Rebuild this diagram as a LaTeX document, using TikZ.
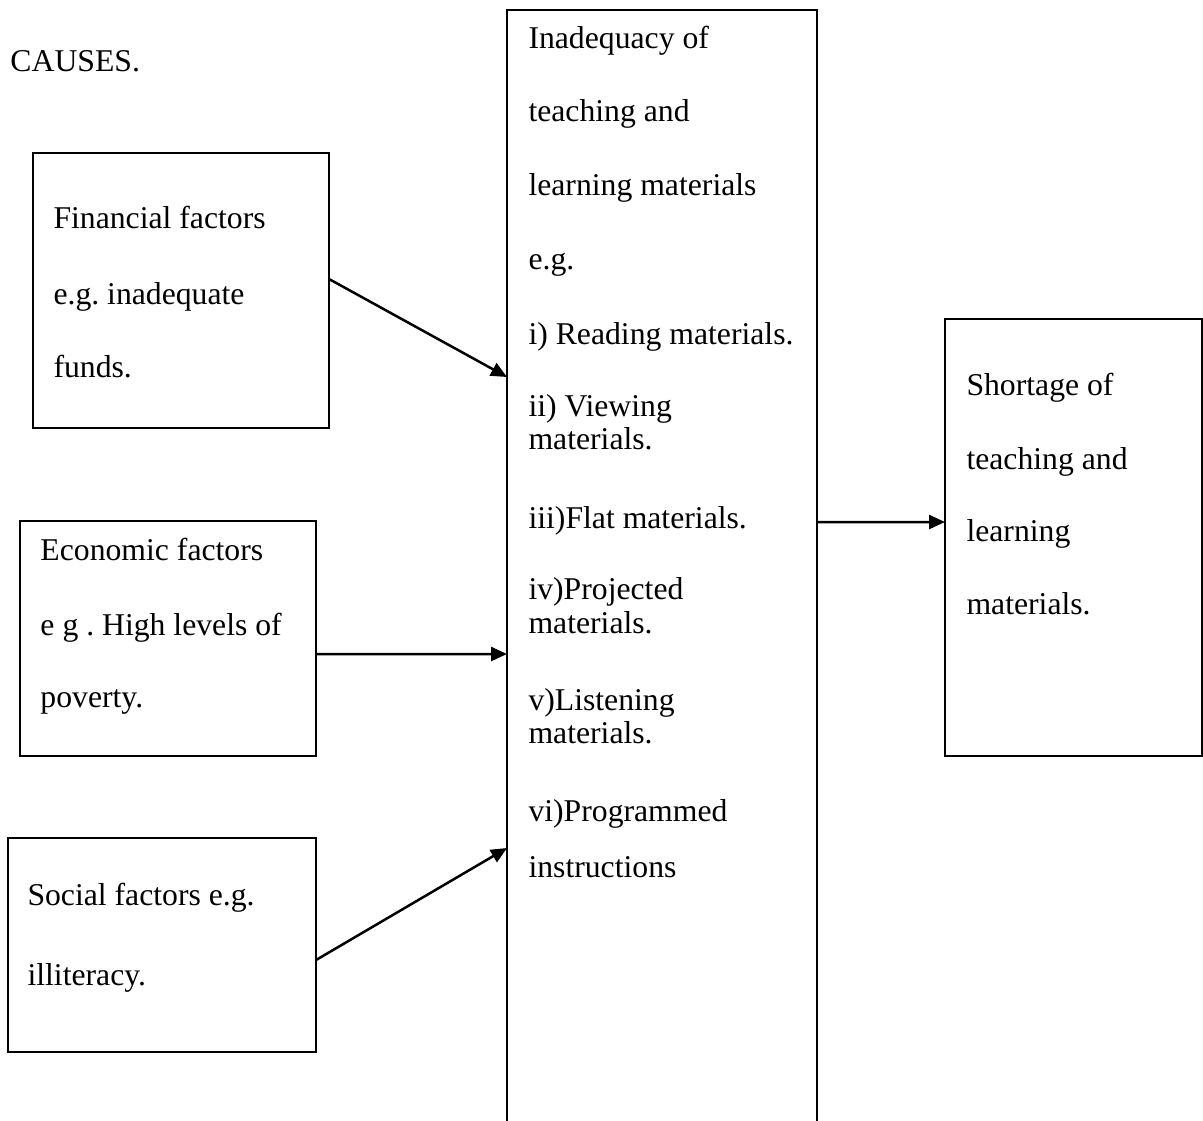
\documentclass[tikz,border=0pt]{standalone}
\usepackage{fontspec}
\setmainfont{Liberation Serif}
\usetikzlibrary{arrows.meta,fit}
\frenchspacing
\begin{document}
\begin{tikzpicture}[x=0.4pt,y=-0.4pt,
  box/.style={draw,line width=0.9pt,inner sep=0pt,outer sep=0pt,fill=none},
  txt/.style={anchor=base west,inner sep=0pt,font=\fontsize{12.68}{15}\selectfont},
  arr/.style={line width=1pt,-{Triangle[length=6.4pt,width=5.6pt]}}]
\clip (0,0) rectangle (1203,1120);
\fill[white] (0,0) rectangle (1203,1120);
% boxes
\node[box,fit={(33,153)(329,428)}] (fin) {};
\node[box,fit={(20,521)(316,756)}] (eco) {};
\node[box,fit={(8,838)(316,1052)}] (soc) {};
\node[box,fit={(507,10)(817,1140)}] (mid) {};
\node[box,fit={(945,319)(1202,756)}] (short) {};
% title
\node[txt] (title) at (10,71) {CAUSES.};
% financial
\node[txt] (fin1) at (53,228) {Financial factors};
\node[txt] (fin2) at (53,304) {e.g. inadequate};
\node[txt] (fin3) at (53,377) {funds.};
% economic
\node[txt] (eco1) at (40,560) {Economic factors};
\node[txt] (eco2) at (40,635) {e g . High levels of};
\node[txt] (eco3) at (40,707) {poverty.};
% social
\node[txt] (soc1) at (27,905) {Social factors e.g.};
\node[txt] (soc2) at (27,985) {illiteracy.};
% middle
\node[txt] (m1) at (528,48) {Inadequacy of};
\node[txt] (m2) at (528,121) {teaching and};
\node[txt] (m3) at (528,195) {learning materials};
\node[txt] (m4) at (528,269) {e.g.};
\node[txt] (m5) at (528,344) {i) Reading materials.};
\node[txt] (m6) at (528,416) {ii) Viewing};
\node[txt] (m7) at (528,449) {materials.};
\node[txt] (m8) at (528,528) {iii)Flat materials.};
\node[txt] (m9) at (528,599) {iv)Projected};
\node[txt] (m10) at (528,633) {materials.};
\node[txt] (m11) at (528,710) {v)Listening};
\node[txt] (m12) at (528,743) {materials.};
\node[txt] (m13) at (528,821) {vi)Programmed};
\node[txt] (m14) at (528,877) {instructions};
% shortage
\node[txt] (s1) at (966,395) {Shortage of};
\node[txt] (s2) at (966,469) {teaching and};
\node[txt] (s3) at (966,541) {learning};
\node[txt] (s4) at (966,614) {materials.};
% arrows
\draw[arr] ([yshift=4.6pt]fin.east) -- ([yshift=-146.8pt]mid.north west);
\draw[arr] ([yshift=-6.2pt]eco.east) -- ([yshift=-257.6pt]mid.north west);
\draw[arr] ([yshift=-6pt]soc.east) -- ([yshift=-335.2pt]mid.north west);
\draw[arr] ([yshift=-204.8pt]mid.north east) -- ([yshift=6.2pt]short.west);
\end{tikzpicture}
\end{document}
